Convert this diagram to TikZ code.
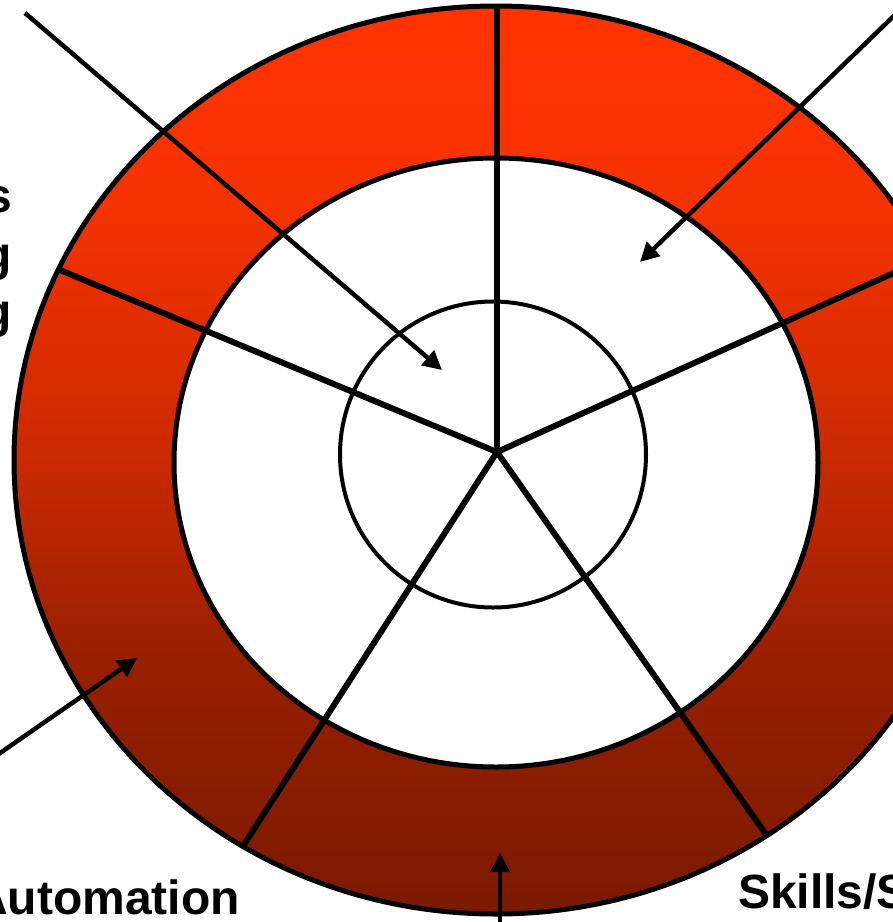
\documentclass[tikz,border=0pt]{standalone}
\usepackage{fontspec}
\setmainfont{Liberation Sans}
\usetikzlibrary{arrows.meta}
\definecolor{rbot}{RGB}{122,26,0}
\definecolor{rc1}{RGB}{152,31,0}
\definecolor{rc2}{RGB}{203,42,0}
\definecolor{rc3}{RGB}{245,50,0}
\definecolor{rtop}{RGB}{255,51,0}
\pgfdeclareverticalshading{ringshade}{100bp}{color(0bp)=(rbot); color(25bp)=(rbot); color(39bp)=(rc1); color(50.5bp)=(rc2); color(64bp)=(rc3); color(75bp)=(rtop); color(100bp)=(rtop)}
\begin{document}
\begin{tikzpicture}[x=1pt,y=-1pt,
  ringline/.style={line width=5pt},
  spoke/.style={line width=6pt,line cap=round},
  hub/.style={line width=4pt},
  pointer/.style={line width=4.5pt,-{Triangle[length=19pt,width=19pt]}},
  lbl/.style={font=\fontsize{48}{55}\selectfont\bfseries, inner sep=0pt}]
\useasboundingbox (0,0) rectangle (893,922);
\coordinate (c) at (497,452);
% ring
\shade[shading=ringshade] (496,460) ellipse [x radius=482, y radius=454];
\fill[white] (496,462.5) ellipse [x radius=322, y radius=304.5];
% spokes
\coordinate (sT) at (497,-300);
\coordinate (sUR) at (1073,192);
\coordinate (sUL) at (-377,88);
\coordinate (sLL) at (-7,1234);
\coordinate (sLR) at (1033,1214);
\begin{scope}
  \clip (496,460) ellipse [x radius=482, y radius=454];
  \draw[spoke] (c) -- (sT);
  \draw[spoke] (c) -- (sUR);
  \draw[spoke] (c) -- (sUL);
  \draw[spoke] (c) -- (sLL);
  \draw[spoke] (c) -- (sLR);
\end{scope}
\draw[ringline] (496,460) ellipse [x radius=482, y radius=454];
\draw[ringline] (496,462.5) ellipse [x radius=322, y radius=304.5];
\draw[hub] (493,454.5) circle [radius=153];
% pointers
\coordinate (a1s) at (25,13);   \coordinate (a1t) at (442,370);
\coordinate (a2s) at (903,7);   \coordinate (a2t) at (640,262);
\coordinate (a3s) at (-10,760); \coordinate (a3t) at (137,658);
\coordinate (a4s) at (500,935); \coordinate (a4t) at (500,853);
\draw[pointer] (a1s) -- (a1t);
\draw[pointer] (a2s) -- (a2t);
\draw[pointer] (a3s) -- (a3t);
\draw[pointer] (a4s) -- (a4t);
% labels
\node[lbl,anchor=base east] (t1) at (12,212) {s};
\node[lbl,anchor=base east] (t2) at (12,270) {g};
\node[lbl,anchor=base east] (t3) at (12,327) {g};
\node[lbl,anchor=base east] (t4) at (240,914) {Automation};
\node[lbl,anchor=base west] (t5) at (738,908) {Skills/S};
\end{tikzpicture}
\end{document}
